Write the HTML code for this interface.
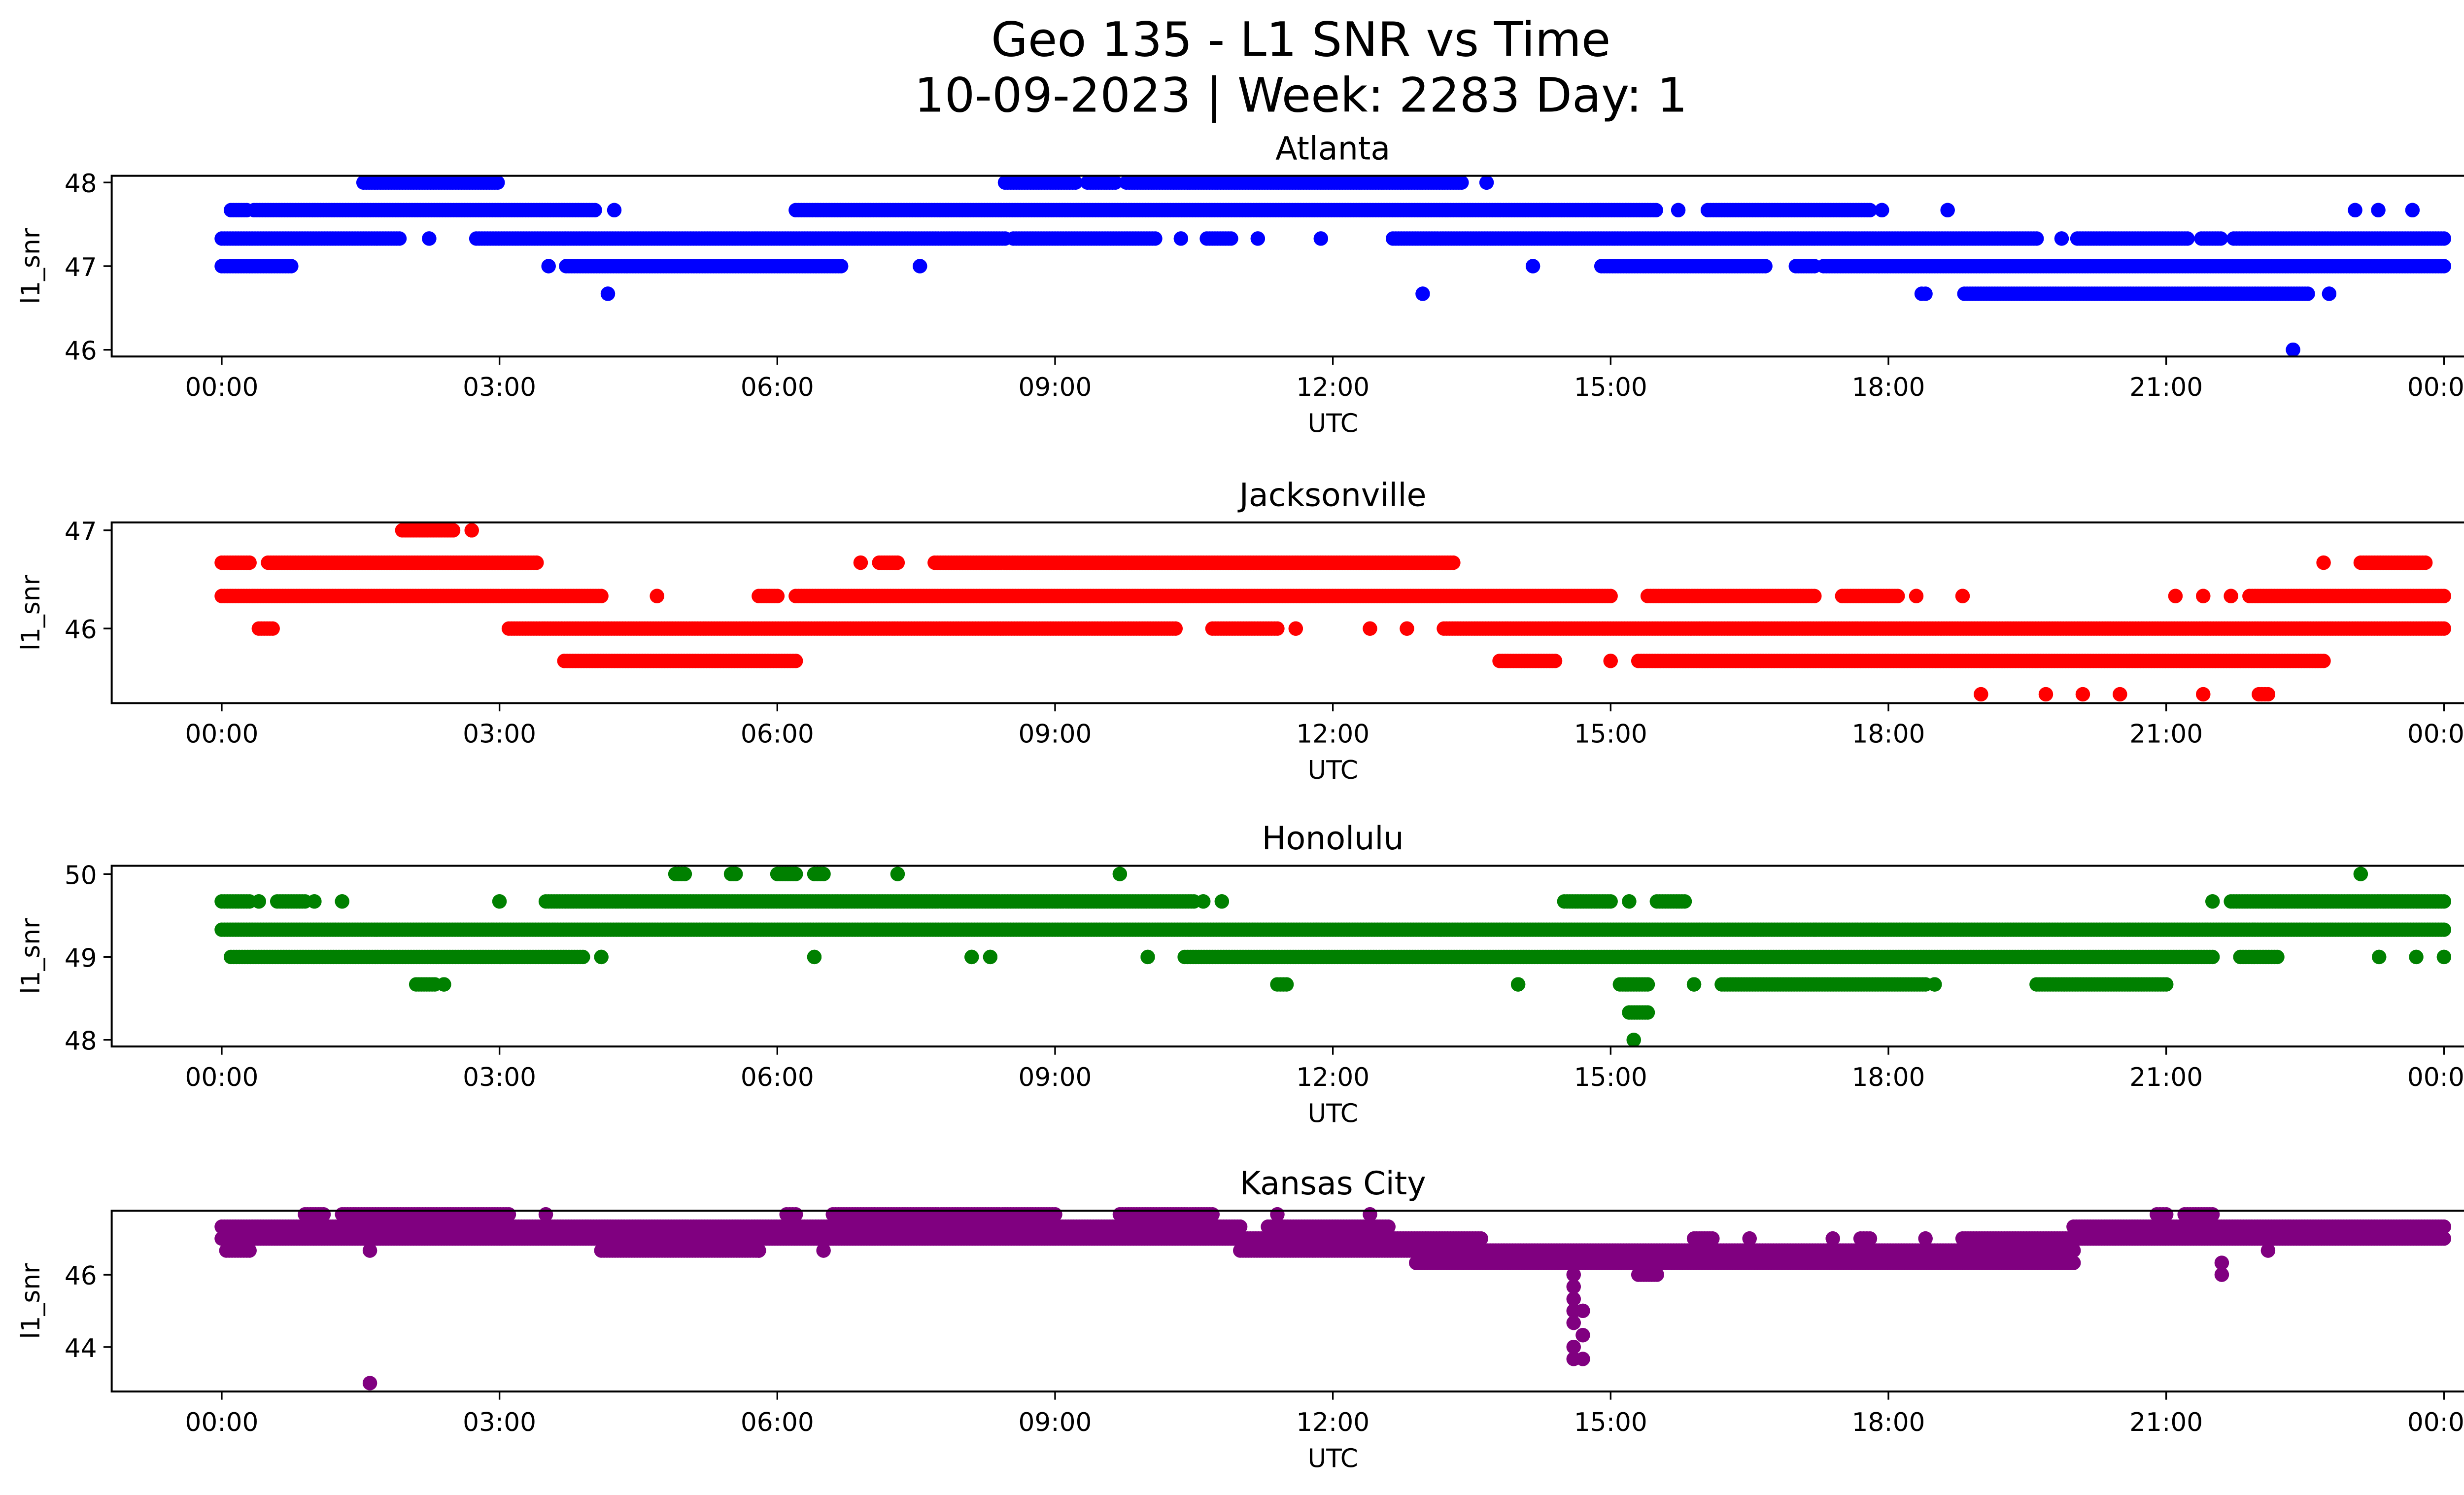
<!DOCTYPE html>
<html><head><meta charset="utf-8">
<style>
html,body{margin:0;padding:0;background:#fff;}
svg{display:block;}
text{font-family:"DejaVu Sans","Liberation Sans",sans-serif;fill:#000;}
</style></head>
<body>
<svg id="chart" width="5226" height="3033" viewBox="0 0 1568 910" xmlns="http://www.w3.org/2000/svg">
<rect width="1568" height="910" fill="#fff"/>
<text x="792" y="34" font-size="29" text-anchor="middle">Geo 135 - L1 SNR vs Time</text>
<text x="792" y="68" font-size="29" text-anchor="middle">10-09-2023 | Week: 2283 Day: 1</text>
</svg>
<script>
// tick labels
const xTickHours = [0,3,6,9,12,15,18,21,24];
const xTickLabels = ["00:00","03:00","06:00","09:00","12:00","15:00","18:00","21:00","00:00"];
const panelTitles = ["Atlanta","Jacksonville","Honolulu","Kansas City"];
const panelColors = ["#0000ff","#ff0000","#008000","#800080"];
const atlantaTicks = [46,47,48];
const jacksonvilleTicks = [46,47];
const honoluluTicks = [48,49,50];
const kansasTicks = [44,46];
// runs: [startHour, endHour, snr]
const atlantaRuns = [
 [0,1.92,47.33],[2.24,2.24,47.33],[2.75,8.46,47.33],[8.55,10.08,47.33],[10.36,10.36,47.33],[10.64,10.9,47.33],[11.19,11.19,47.33],[11.87,11.87,47.33],[12.65,19.6,47.33],[19.87,19.87,47.33],[20.04,21.23,47.33],[21.38,21.59,47.33],[21.73,24,47.33],
 [0,0.75,47],[3.53,3.53,47],[3.72,6.69,47],[7.54,7.54,47],[14.16,14.16,47],[14.9,16.67,47],[17.0,17.2,47],[17.3,24,47],
 [0.1,0.27,47.67],[0.35,4.03,47.67],[4.24,4.24,47.67],[6.2,15.49,47.67],[15.73,15.73,47.67],[16.05,17.8,47.67],[17.93,17.93,47.67],[18.64,18.64,47.67],[23.04,23.04,47.67],[23.29,23.29,47.67],[23.66,23.66,47.67],
 [1.53,2.98,48],[8.46,9.22,48],[9.35,9.65,48],[9.77,13.39,48],[13.66,13.66,48],
 [4.17,4.17,46.67],[12.97,12.97,46.67],[18.36,18.4,46.67],[18.82,22.53,46.67],[22.76,22.76,46.67],
 [22.37,22.37,46]
];
const jacksonvilleRuns = [
 [1.95,2.5,47],[2.7,2.7,47],
 [0,0.3,46.67],[0.5,3.4,46.67],[6.9,6.9,46.67],[7.1,7.3,46.67],[7.7,13.3,46.67],[22.7,22.7,46.67],[23.1,23.8,46.67],
 [0,4.1,46.33],[4.7,4.7,46.33],[5.8,6.0,46.33],[6.2,15,46.33],[15.4,17.2,46.33],[17.5,18.1,46.33],[18.3,18.3,46.33],[18.8,18.8,46.33],[21.1,21.1,46.33],[21.4,21.4,46.33],[21.7,21.7,46.33],[21.9,24,46.33],
 [0.4,0.55,46],[3.1,10.3,46],[10.7,11.4,46],[11.6,11.6,46],[12.4,12.4,46],[12.8,12.8,46],[13.2,24,46],
 [3.7,6.2,45.67],[13.8,14.4,45.67],[15,15,45.67],[15.3,22.7,45.67],
 [19,19,45.33],[19.7,19.7,45.33],[20.1,20.1,45.33],[20.5,20.5,45.33],[21.4,21.4,45.33],[22,22.1,45.33]
];
const honoluluRuns = [
 [0,24,49.33],
 [0,0.3,49.67],[0.4,0.4,49.67],[0.6,0.9,49.67],[1.0,1.0,49.67],[1.3,1.3,49.67],[3.0,3.0,49.67],[3.5,10.5,49.67],[10.6,10.6,49.67],[10.8,10.8,49.67],[14.5,15.0,49.67],[15.2,15.2,49.67],[15.5,15.8,49.67],[21.5,21.5,49.67],[21.7,24,49.67],
 [0.1,3.9,49],[4.1,4.1,49],[6.4,6.4,49],[8.1,8.1,49],[8.3,8.3,49],[10,10,49],[10.4,21.5,49],[21.8,22.2,49],[23.3,23.3,49],[23.7,23.7,49],[24,24,49],
 [4.9,5.0,50],[5.5,5.55,50],[6.0,6.2,50],[6.4,6.5,50],[7.3,7.3,50],[9.7,9.7,50],[23.1,23.1,50],
 [2.1,2.3,48.67],[2.4,2.4,48.67],[11.4,11.5,48.67],[14.0,14.0,48.67],[15.1,15.4,48.67],[15.9,15.9,48.67],[16.2,18.4,48.67],[18.5,18.5,48.67],[19.6,21.0,48.67],
 [15.2,15.4,48.33],[15.25,15.25,48]
];
const kansasRuns = [
 [0,11,47.33],[11.3,12.6,47.33],[20,24,47.33],
 [0,13.6,47],[15.9,16.1,47],[16.5,16.5,47],[17.4,17.4,47],[17.7,17.8,47],[18.4,18.4,47],[18.8,24,47],
 [0.05,0.3,46.67],[4.1,5.8,46.67],[6.5,6.5,46.67],[5.8,5.8,46.67],[11,20,46.67],
 [12.9,20,46.33],
 [0.9,1.1,47.67],[1.3,3.1,47.67],[3.5,3.5,47.67],[6.1,6.2,47.67],[6.6,9,47.67],[9.7,10.7,47.67],[11.4,11.4,47.67],[12.4,12.4,47.67],[20.9,21,47.67],[21.2,21.5,47.67],
 [14.6,14.6,46],[15.3,15.5,46],[21.6,21.6,46],
 [14.6,14.6,45.67],[14.6,14.6,45.33],[14.6,14.6,45],[14.7,14.7,45],[14.6,14.6,44.67],[14.7,14.7,44.33],[14.6,14.6,44],[14.6,14.6,43.67],[14.7,14.7,43.67],
 [1.6,1.6,43],[1.6,1.6,46.67],[21.6,21.6,46.33],[22.1,22.1,46.67]
];
const allRuns = [atlantaRuns, jacksonvilleRuns, honoluluRuns, kansasRuns];
const allTicks = [atlantaTicks, jacksonvilleTicks, honoluluTicks, kansasTicks];
const yLims = [[45.92,48.08],[45.24,47.08],[47.92,50.1],[42.77,47.77]];
const panelTops = [107,318,527,737];
const PH = 110, PL = 68, PR = 1555;
const xScale = h => 135 + h * (1488 - 135) / 24;

const NS = "http://www.w3.org/2000/svg";
const svg = document.getElementById('chart');
function mk(tag, attrs, parent){
  const e = document.createElementNS(NS, tag);
  for (const k in attrs) e.setAttribute(k, attrs[k]);
  (parent || svg).appendChild(e);
  return e;
}
allRuns.forEach((runs, p) => {
  const top = panelTops[p], bot = top + PH;
  const [y0, y1] = yLims[p];
  const yScale = v => bot - (v - y0) / (y1 - y0) * PH;
  const g = mk('g', {});
  
  
  const title = mk('text', {x: (PL + PR) / 2, y: top - 10, 'font-size': 19.5, 'text-anchor': 'middle'}, g);
  
  
  title.textContent = panelTitles[p];
  const dots = mk('g', {fill: panelColors[p]}, g);
  
  
  runs.forEach(r => {
    const n = Math.max(1, Math.round((r[1] - r[0]) / 0.03));
    for (let i = 0; i <= n; i++) {
      const h = r[0] + (r[1] - r[0]) * (n ? i / n : 0);
      const c = mk('circle', {cx: xScale(h).toFixed(1), cy: yScale(r[2]).toFixed(1), r: 4.4}, dots);
      
      
    }
  });
  const frame = mk('rect', {x: PL, y: top, width: PR - PL, height: PH, fill: 'none', stroke: '#000', 'stroke-width': 1.2}, g);
  
  
  xTickHours.forEach((h, i) => {
    const x = xScale(h);
    const t = mk('line', {x1: x, x2: x, y1: bot, y2: bot + 5, stroke: '#000'}, g);
    
    
    const l = mk('text', {x: x, y: bot + 24, 'font-size': 15.5, 'text-anchor': 'middle'}, g);
    
    
    l.textContent = xTickLabels[i];
  });
  allTicks[p].forEach(v => {
    const y = yScale(v);
    const t = mk('line', {x1: PL - 5, x2: PL, y1: y, y2: y, stroke: '#000'}, g);
    
    
    const l = mk('text', {x: PL - 9, y: y + 6, 'font-size': 15.5, 'text-anchor': 'end'}, g);
    
    
    l.textContent = v;
  });
  const xl = mk('text', {x: (PL + PR) / 2, y: bot + 46, 'font-size': 15.5, 'text-anchor': 'middle'}, g);
  
  
  xl.textContent = 'UTC';
  const cy = top + PH / 2;
  const yl = mk('text', {x: 24, y: cy, 'font-size': 15.5, 'text-anchor': 'middle', transform: 'rotate(-90 24 ' + cy + ')'}, g);
  
  
  yl.textContent = 'l1_snr';
});
</script>
</body></html>
